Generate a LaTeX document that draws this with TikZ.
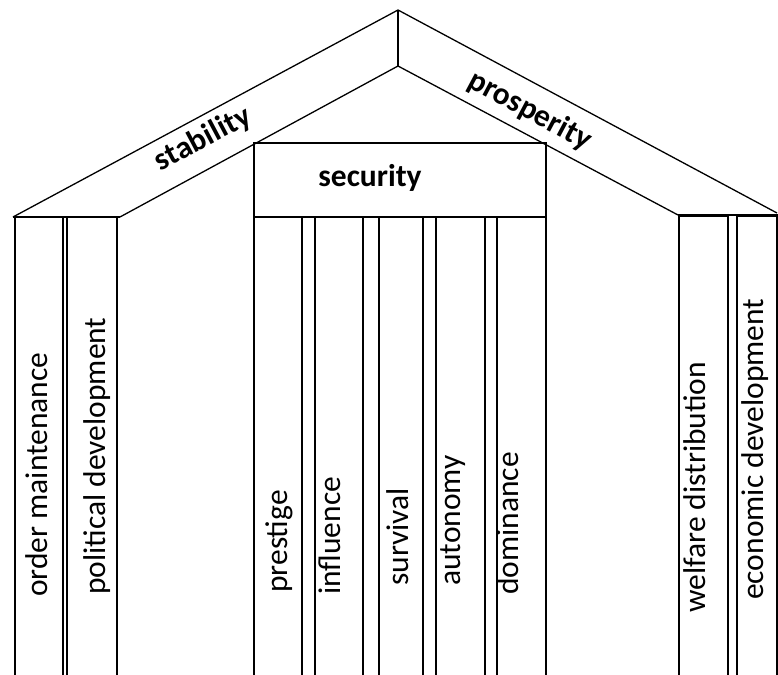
\documentclass[tikz,border=0pt]{standalone}
\usepackage{fontspec}
\setmainfont{Carlito}
\begin{document}
\begin{tikzpicture}[x=1pt,y=-1pt,line join=miter,
  ln/.style={line width=1.6pt},
  roofln/.style={line width=1.3pt},
  capln/.style={line width=2.6pt},
  lbl/.style={font=\fontsize{31.5}{36}\selectfont, inner sep=0pt, rotate=90, anchor=base west},
  rlbl/.style={font=\bfseries\fontsize{31.5}{36}\selectfont, inner sep=0pt}]
\useasboundingbox (0,0) rectangle (778,674);
\clip (0,0) rectangle (778,674);
% roof
\coordinate (L) at (13,217);
\coordinate (A) at (398,10);
\coordinate (R) at (777,213);
\coordinate (Li) at (120,217);
\coordinate (Ai) at (398,66);
\coordinate (Ri) at (678,215);
\draw[roofln] (L) -- (A) -- (R);
\draw[roofln] (Li) -- (Ai) -- (Ri);
\draw[roofln] (A) -- (Ai);
% security box
\draw[ln] (254,143) rectangle (546,217);
% security columns
\draw[ln] (254,217) rectangle (302,690);
\draw[ln] (315,217) rectangle (363,690);
\draw[ln] (379,217) rectangle (423,690);
\draw[ln] (436,217) rectangle (485,690);
\draw[ln] (497,217) rectangle (546,690);
% left columns
\draw[ln] (15,217) rectangle (63,690);
\draw[ln] (67,217) rectangle (117,690);
\draw[capln] (13,217) -- (120,217);
% right columns
\draw[ln] (679,216) rectangle (728,690);
\draw[ln] (737,216) rectangle (777,690);
\draw[capln] (678,215) -- (778,215);
% roof labels
\node[rlbl, rotate=28] (stab) at (203,139) {stability};
\node[rlbl, rotate=-28] (prosp) at (530,111) {prosperity};
\node[rlbl] (sec) at (370,178) {security};
% column labels
\node[lbl] (om) at (47,597) {order maintenance};
\node[lbl] (pd) at (105,595) {political development};
\node[lbl] (pr) at (287,593) {prestige};
\node[lbl] (inf) at (340,595) {influence};
\node[lbl] (sur) at (408,586) {survival};
\node[lbl] (aut) at (460,586) {autonomy};
\node[lbl] (dom) at (518,595) {dominance};
\node[lbl] (wd) at (705,613) {welfare distribution};
\node[lbl] (ed) at (763,600) {economic development};
\end{tikzpicture}
\end{document}
